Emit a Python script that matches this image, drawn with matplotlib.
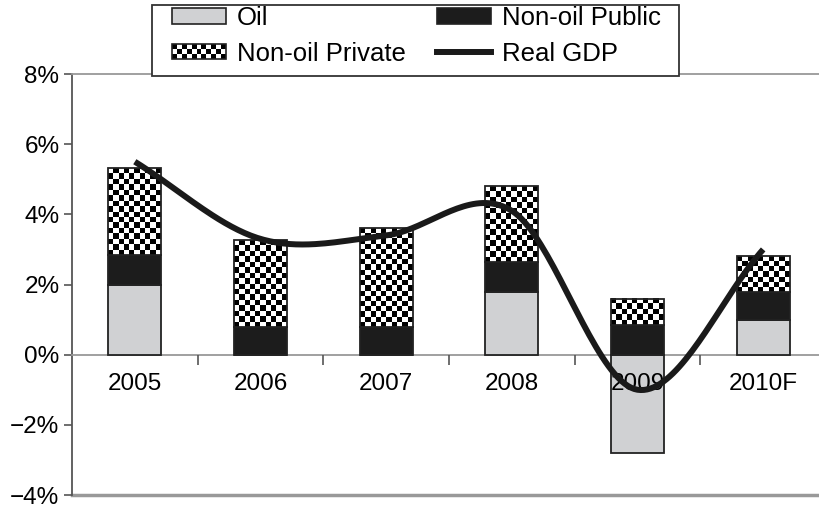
import matplotlib
matplotlib.use("Agg")
import matplotlib.pyplot as plt
import numpy as np
from matplotlib.patches import Rectangle, Patch
from matplotlib.lines import Line2D
from matplotlib.legend_handler import HandlerBase
from matplotlib.ticker import FixedLocator, FuncFormatter

plt.rcParams['font.family'] = ['Liberation Sans', 'DejaVu Sans']

years = ['2005', '2006', '2007', '2008', '2009', '2010F']
oil = [2.0, 0.0, 0.0, 1.8, -2.8, 1.0]
nonoil_public = [0.85, 0.8, 0.8, 0.85, 0.85, 0.8]
nonoil_private = [2.47, 2.47, 2.8, 2.15, 0.75, 1.0]
real_gdp = [5.5, 3.3, 3.4, 4.1, -1.0, 3.0]

EDGE = '#222222'
OIL_C = '#d0d1d3'
PUB_C = '#1c1c1c'
CELL_PX = 5.3
W, H = 820, 507


def catmull_rom(x, y, n=40):
    # smooth curve through every point, like the spreadsheet "smoothed line"
    x = np.asarray(x, float)
    y = np.asarray(y, float)
    px = np.concatenate([[2 * x[0] - x[1]], x, [2 * x[-1] - x[-2]]])
    py = np.concatenate([[2 * y[0] - y[1]], y, [2 * y[-1] - y[-2]]])
    xs, ys = [], []
    t = np.linspace(0, 1, n)
    for i in range(1, len(px) - 2):
        for p, out in ((px, xs), (py, ys)):
            p0, p1, p2, p3 = p[i - 1], p[i], p[i + 1], p[i + 2]
            c1 = p1 + (p2 - p0) / 6
            c2 = p2 - (p3 - p1) / 6
            out.extend((1 - t) ** 3 * p1 + 3 * (1 - t) ** 2 * t * c1
                       + 3 * (1 - t) * t ** 2 * c2 + t ** 3 * p2)
    return np.array(xs), np.array(ys)


class CheckerHandler(HandlerBase):
    def create_artists(self, legend, orig_handle, xdescent, ydescent,
                       width, height, fontsize, trans):
        arts = [Rectangle((-xdescent, -ydescent), width, height,
                          facecolor='white', edgecolor='none', transform=trans)]
        nx, ny = 11, 3
        cw, ch = width / nx, height / ny
        for i in range(nx):
            for j in range(ny):
                if (i + j) % 2 == 0:
                    arts.append(Rectangle((-xdescent + i * cw, -ydescent + j * ch), cw, ch,
                                          facecolor='black', edgecolor='none', transform=trans))
        arts.append(Rectangle((-xdescent, -ydescent), width, height,
                              facecolor='none', edgecolor=EDGE, lw=1.2, transform=trans))
        return arts


fig = plt.figure(figsize=(W / 100, H / 100), dpi=100)
ax = fig.add_axes([72 / W, 12 / H, 754 / W, 421 / H])

x = np.arange(len(years))
w = 0.42
ymin, ymax = -4, 8

ax.bar(x, oil, w, color=OIL_C, edgecolor=EDGE, lw=1.3, zorder=3)
ax.bar(x, nonoil_public, w, bottom=np.maximum(oil, 0), color=PUB_C,
       edgecolor=EDGE, lw=1.3, zorder=3)
priv_bottom = np.maximum(oil, 0) + np.array(nonoil_public)
priv_bars = ax.bar(x, nonoil_private, w, bottom=priv_bottom, color='none',
                   edgecolor=EDGE, lw=1.3, zorder=3.2)

# checkerboard fill for private bars
x_per_px = (len(years)) / 754
y_per_px = (ymax - ymin) / 421
for bar in priv_bars:
    x0, y0 = bar.get_x(), bar.get_y()
    bw, bh = bar.get_width(), bar.get_height()
    nx = max(1, int(round(bw / x_per_px / CELL_PX)))
    ny = max(1, int(round(bh / y_per_px / CELL_PX)))
    checker = (np.indices((ny, nx)).sum(axis=0) % 2).astype(float)
    ax.imshow(checker, cmap='gray', vmin=0, vmax=1, aspect='auto',
              interpolation='nearest', extent=(x0, x0 + bw, y0, y0 + bh),
              zorder=3.1, origin='lower')

gx, gy = catmull_rom(x, real_gdp)
ax.plot(gx, gy, color='#1a1a1a', lw=4.3, solid_capstyle='butt', zorder=5)

ax.set_xlim(-0.5, len(years) - 0.5)
ax.set_ylim(ymin, ymax)

ax.spines['right'].set_visible(False)
ax.spines['top'].set_color('#999999')
ax.spines['left'].set_color('#555555')
ax.spines['left'].set_linewidth(1.3)
ax.spines['bottom'].set_position(('data', 0))
ax.spines['bottom'].set_color('#999999')
ax.spines['bottom'].set_linewidth(1.3)
ax.spines['top'].set_linewidth(1.3)
ax.axhline(ymin, color='#999999', lw=2.5, zorder=1, clip_on=False)

ax.set_yticks(np.arange(ymin, ymax + 1, 2))
ax.yaxis.set_major_formatter(FuncFormatter(
    lambda v, p: f"{int(v)}%".replace('-', '\u2212')))
ax.tick_params(axis='y', direction='out', length=6, width=1.2, color='#555555',
               labelsize=17.5, pad=3)

ax.xaxis.set_major_locator(FixedLocator(x[:-1] + 0.5))
ax.xaxis.set_minor_locator(FixedLocator(x))
ax.xaxis.set_major_formatter(FuncFormatter(lambda v, p: ''))
ax.set_xticklabels(years, minor=True)
ax.tick_params(axis='x', which='major', direction='out', length=7, width=1.2,
               color='#555555')
ax.tick_params(axis='x', which='minor', length=0, labelsize=17.5, pad=13)
ax.xaxis.set_zorder(4)

# legend box drawn by hand so the padding can differ left/right vs top/bottom
fig.patches.append(Rectangle((152 / W, 1 - 76 / H), 527 / W, 71 / H,
                             transform=fig.transFigure, facecolor='white',
                             edgecolor='#333333', lw=1.3, zorder=4))

handles = [Patch(facecolor=OIL_C, edgecolor=EDGE, lw=1.2),
           Patch(facecolor='white', edgecolor=EDGE),
           Patch(facecolor=PUB_C, edgecolor=EDGE, lw=1.2),
           Line2D([], [], color='#1a1a1a', lw=4.3)]
labels = ['Oil', 'Non-oil Private', 'Non-oil Public', 'Real GDP']
leg = fig.legend(handles, labels, ncol=2, loc='upper left',
                 bbox_to_anchor=(172 / W, 1 - 6 / H), fontsize=18.5,
                 frameon=False, handlelength=2.1, handleheight=0.54,
                 handletextpad=0.43, columnspacing=1.2, labelspacing=0.46,
                 borderpad=0, borderaxespad=0,
                 handler_map={handles[1]: CheckerHandler()})
leg.set_zorder(5)

fig.savefig('out.png', dpi=100)
